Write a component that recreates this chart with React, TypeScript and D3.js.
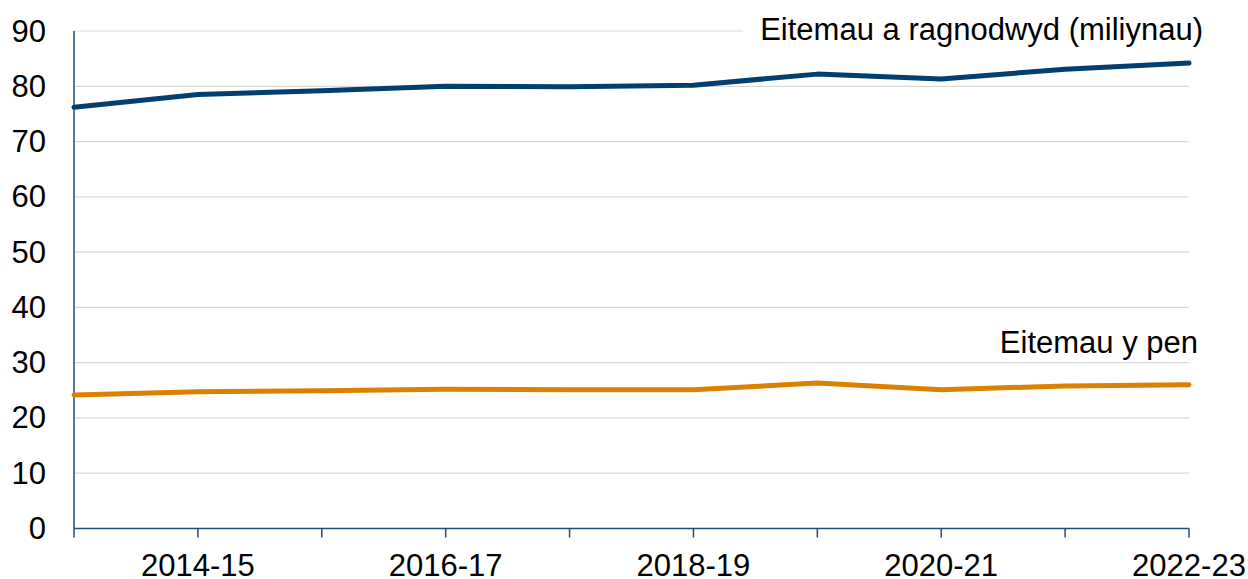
import React from "react";
import * as d3 from "d3";

const categories = ["2013-14","2014-15","2015-16","2016-17","2017-18","2018-19","2019-20","2020-21","2021-22","2022-23"];
const itemsPrescribed = [76.2, 78.5, 79.2, 80.0, 79.9, 80.2, 82.2, 81.3, 83.1, 84.2];
const itemsPerHead = [24.15, 24.75, 24.9, 25.2, 25.1, 25.1, 26.3, 25.1, 25.8, 26.0];
const yTicks = [0, 10, 20, 30, 40, 50, 60, 70, 80, 90];
const xLabels = ["2014-15","2016-17","2018-19","2020-21","2022-23"];

const W = 1248, H = 579;
const left = 74, right = 1189, top = 31, bottom = 528.5;
const font = "'Liberation Sans', Arial, sans-serif";
const fs = 31;

export default function App() {
  const x = d3.scalePoint<string>().domain(categories).range([left, right]);
  const y = d3.scaleLinear().domain([0, 90]).range([bottom, top]);
  const line = d3.line<number>().x((_, i) => x(categories[i])!).y(d => y(d));
  return (
    <svg width={W} height={H} style={{ position: "absolute", left: 0, top: 0, background: "#fff" }} fontFamily={font}>
      {yTicks.filter(t => t > 0).map(t => (
        <line key={t} x1={left} x2={right} y1={y(t)} y2={y(t)} stroke="#d9d9d9" strokeWidth={1.2} />
      ))}
      {yTicks.map(t => (
        <text key={t} x={46} y={y(t) + 10.5} textAnchor="end" fontSize={fs} fill="#000">{t}</text>
      ))}
      <line x1={left} x2={left} y1={top} y2={bottom} stroke="#1f4e79" strokeWidth={1.5} />
      <line x1={left} x2={right} y1={bottom} y2={bottom} stroke="#1f4e79" strokeWidth={1.5} />
      {categories.map(c => (
        <line key={c} x1={x(c)} x2={x(c)} y1={bottom} y2={bottom + 9} stroke="#1f4e79" strokeWidth={1.5} />
      ))}
      {xLabels.map(c => (
        <text key={c} x={x(c)} y={575.5} textAnchor="middle" fontSize={fs} fill="#000">{c}</text>
      ))}
      <path d={line(itemsPrescribed)!} fill="none" stroke="#003f6e" strokeWidth={5} strokeLinecap="round" strokeLinejoin="round" />
      <path d={line(itemsPerHead)!} fill="none" stroke="#db8000" strokeWidth={5} strokeLinecap="round" strokeLinejoin="round" />
      <rect x={743} y={14} width={470} height={34} fill="#fff" />
      <text x={1203} y={39.5} textAnchor="end" fontSize={fs} fill="#000">Eitemau a ragnodwyd (miliynau)</text>
      <rect x={983} y={326} width={225} height={34} fill="#fff" />
      <text x={1198} y={352.5} textAnchor="end" fontSize={fs} fill="#000">Eitemau y pen</text>
    </svg>
  );
}
